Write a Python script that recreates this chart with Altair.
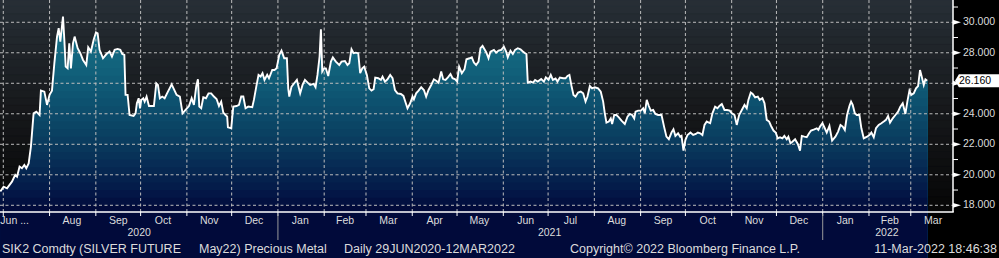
import altair as alt
import pandas as pd

# ---------------- data ----------------
START = "2020-06-29"   # first trading day shown; offsets below are days after it

days = [
    0.0, 2.2, 4.5, 7.8, 10.0, 11.2, 12.9, 14.5, 16.1, 17.4,
    19.0, 20.5, 22.3, 24.1, 26.3, 27.2, 29.5, 31.3, 33.0, 34.6,
    36.2, 38.0, 39.1, 40.2, 42.0, 42.9, 43.8, 45.1, 46.2, 47.3,
    48.7, 49.8, 51.8, 53.6, 55.4, 57.6, 58.9, 60.7, 62.5, 64.1,
    65.2, 66.5, 68.8, 71.0, 73.2, 74.8, 76.6, 78.6, 80.4, 81.7,
    83.1, 83.9, 85.3, 86.6, 89.3, 90.6, 91.5, 92.7, 93.6, 94.4,
    95.8, 96.7, 98.0, 99.6, 102.9, 104.5, 105.6, 106.9, 108.5, 110.1,
    112.3, 114.8, 116.3, 118.1, 120.3, 122.1, 124.1, 126.4, 128.2, 129.7,
    131.3, 132.4, 133.3, 134.6, 136.0, 137.8, 139.5, 141.3, 143.1, 144.9,
    146.5, 148.0, 149.4, 150.9, 152.0, 152.5, 154.7, 156.1, 158.3, 159.9,
    161.4, 162.8, 164.3, 166.1, 168.8, 169.9, 171.5, 173.0, 174.4, 175.7,
    177.0, 178.8, 180.0, 182.2, 183.7, 185.1, 186.9, 188.4, 190.2, 192.0,
    192.9, 193.6, 195.1, 196.9, 198.7, 200.9, 202.5, 204.1, 205.9, 207.6,
    209.9, 211.2, 212.5, 213.9, 214.8, 215.7, 217.0, 218.1, 219.7, 221.5,
    222.8, 224.8, 227.1, 228.6, 230.9, 232.6, 233.8, 235.3, 236.7, 238.2,
    239.8, 241.1, 242.5, 243.8, 245.6, 247.2, 248.7, 250.1, 251.2, 253.2,
    255.0, 256.1, 257.7, 259.4, 261.2, 262.8, 264.4, 266.1, 268.4, 270.1,
    271.7, 272.8, 274.6, 276.2, 277.1, 278.6, 280.2, 282.0, 283.8, 285.3,
    286.9, 288.7, 290.5, 292.3, 293.6, 295.4, 296.7, 298.3, 299.9, 301.6,
    303.0, 304.8, 306.1, 307.4, 309.2, 311.0, 312.3, 314.4, 315.9, 317.3,
    318.8, 320.4, 321.7, 323.1, 324.4, 325.7, 327.1, 328.4, 330.7, 332.2,
    333.8, 335.6, 337.4, 338.9, 340.0, 341.8, 343.4, 344.9, 346.7, 348.5,
    350.1, 351.6, 352.5, 353.4, 355.2, 357.0, 358.3, 360.1, 362.4, 364.2,
    365.5, 367.3, 368.8, 370.2, 372.0, 373.3, 374.9, 377.1, 378.7, 380.0,
    381.3, 382.7, 384.0, 385.4, 387.1, 388.9, 390.5, 392.1, 393.4, 395.0,
    396.5, 398.3, 400.5, 402.3, 403.9, 405.0, 406.1, 407.7, 409.0, 409.9,
    411.3, 412.8, 414.4, 416.2, 418.4, 420.2, 421.8, 423.3, 424.7, 425.6,
    427.3, 429.1, 430.7, 431.8, 433.1, 434.5, 435.8, 437.4, 438.9, 440.7,
    443.0, 444.7, 446.3, 447.9, 449.7, 451.0, 452.3, 454.1, 455.5, 456.4,
    457.7, 459.0, 460.4, 462.4, 464.2, 466.0, 467.3, 468.9, 470.4, 471.8,
    473.3, 475.6, 477.1, 478.9, 480.5, 481.8, 483.4, 485.2, 487.0, 488.7,
    490.1, 491.9, 493.4, 495.0, 496.8, 498.6, 500.1, 501.2, 502.8, 504.1,
    505.7, 507.5, 508.8, 510.6, 512.0, 513.5, 515.1, 516.4, 518.0, 519.5,
    520.9, 522.4, 524.0, 525.3, 526.9, 528.0, 529.4, 530.7, 532.5, 534.3,
    535.8, 537.0, 538.7, 540.3, 541.9, 543.2, 545.4, 547.0, 548.1, 549.2,
    550.8, 552.4, 553.7, 555.5, 557.3, 559.5, 561.3, 562.9, 564.4, 565.8,
    567.3, 568.9, 570.0, 571.1, 572.5, 573.8, 575.6, 576.9, 578.5, 580.7,
    582.3, 583.6, 585.2, 586.7, 588.5, 590.3, 591.9, 593.4, 594.8, 596.1,
    597.9, 599.7, 601.5, 603.0, 604.6, 606.4, 607.7, 609.1, 610.4, 612.0,
    613.5, 614.9, 616.2, 617.6, 618.7, 619.8, 621.0,
]

prices = [
    18.90, 19.22, 19.11, 19.55, 19.99, 19.88, 20.54, 20.43, 20.64, 20.43,
    20.75, 21.85, 24.03, 24.14, 23.92, 25.52, 25.45, 24.58, 25.24, 25.52,
    27.31, 29.06, 29.61, 28.73, 30.37, 28.84, 27.09, 26.98, 28.62, 26.98,
    28.62, 29.06, 28.30, 27.97, 27.53, 27.20, 28.36, 28.08, 28.84, 29.34,
    29.28, 28.19, 27.64, 27.90, 28.08, 27.75, 28.19, 28.25, 28.19, 27.92,
    27.86, 25.24, 25.24, 23.92, 23.86, 24.03, 24.69, 25.02, 24.36, 24.91,
    25.02, 24.80, 25.13, 24.51, 24.51, 26.00, 25.89, 25.02, 25.13, 25.02,
    25.45, 25.93, 25.61, 25.24, 25.13, 24.03, 24.25, 24.51, 25.02, 24.58,
    25.82, 26.26, 24.47, 24.36, 25.08, 25.02, 25.34, 25.34, 25.13, 24.97,
    24.51, 24.80, 24.08, 23.92, 23.81, 23.11, 23.05, 24.47, 24.51, 24.58,
    25.13, 25.13, 24.36, 24.47, 24.43, 24.91, 25.78, 26.55, 26.44, 26.66,
    26.22, 26.55, 26.33, 26.87, 26.87, 26.98, 27.86, 28.14, 27.64, 27.64,
    25.67, 25.13, 25.78, 26.00, 26.22, 25.34, 25.89, 26.22, 26.04, 25.89,
    25.96, 25.74, 26.55, 27.75, 29.54, 26.77, 26.98, 26.98, 26.48, 27.42,
    27.70, 27.42, 27.20, 27.42, 27.46, 27.20, 27.31, 28.23, 27.97, 28.01,
    27.97, 26.66, 26.98, 27.09, 26.55, 25.67, 25.52, 25.61, 26.37, 26.33,
    26.22, 26.44, 26.11, 26.26, 26.55, 26.33, 25.56, 25.34, 25.30, 25.17,
    24.69, 24.36, 24.69, 25.13, 24.95, 25.34, 25.52, 25.74, 25.56, 25.13,
    25.56, 25.89, 26.26, 26.15, 26.04, 26.77, 26.26, 26.22, 26.39, 26.61,
    26.33, 26.26, 26.11, 27.09, 26.66, 26.92, 27.57, 27.64, 27.70, 27.36,
    27.20, 27.42, 28.30, 28.45, 28.23, 28.01, 27.64, 28.08, 28.19, 28.01,
    28.14, 28.19, 28.40, 28.08, 27.70, 28.14, 27.92, 28.19, 28.30, 28.23,
    28.08, 27.97, 27.92, 26.04, 26.11, 26.04, 26.22, 26.11, 26.28, 26.11,
    26.39, 26.22, 26.55, 26.22, 26.31, 26.11, 26.37, 26.33, 26.33, 26.48,
    26.55, 25.82, 25.24, 25.13, 25.39, 25.45, 25.34, 24.80, 25.13, 25.82,
    25.67, 25.74, 25.67, 25.45, 24.80, 24.03, 23.42, 23.49, 23.70, 23.33,
    23.92, 23.92, 23.77, 23.55, 23.33, 23.81, 23.99, 23.92, 23.70, 24.14,
    24.21, 24.21, 24.36, 24.03, 24.91, 24.51, 24.21, 24.25, 23.99, 23.92,
    23.92, 23.16, 22.50, 22.33, 22.77, 22.98, 22.55, 22.72, 22.50, 22.55,
    21.58, 22.28, 22.61, 22.77, 22.61, 22.68, 22.77, 22.72, 22.61, 23.27,
    23.49, 23.38, 24.03, 24.47, 24.36, 24.51, 24.64, 24.25, 24.25, 24.21,
    24.03, 23.92, 23.27, 23.92, 24.25, 24.58, 24.36, 24.91, 25.39, 25.30,
    25.08, 25.13, 24.91, 25.02, 24.69, 23.60, 23.49, 23.20, 22.90, 22.77,
    22.39, 22.46, 22.39, 22.55, 22.33, 22.50, 22.07, 22.17, 22.33, 22.02,
    21.58, 22.55, 22.50, 22.46, 22.72, 22.90, 22.98, 23.05, 22.94, 23.16,
    23.38, 23.05, 22.77, 23.20, 22.24, 22.50, 22.83, 23.27, 23.16, 22.94,
    23.92, 24.51, 24.80, 24.58, 24.03, 23.92, 23.92, 23.05, 22.39, 22.50,
    22.61, 22.77, 22.46, 23.05, 23.27, 23.38, 23.49, 23.60, 23.86, 23.42,
    23.70, 23.92, 24.14, 24.47, 24.69, 23.99, 24.80, 25.52, 25.24, 25.34,
    25.67, 25.82, 26.87, 26.33, 25.89, 26.26, 26.16,
]

month_starts = [
    "2020-07-01", "2020-08-01", "2020-09-01", "2020-10-01", "2020-11-01",
    "2020-12-01", "2021-01-01", "2021-02-01", "2021-03-01", "2021-04-01",
    "2021-05-01", "2021-06-01", "2021-07-01", "2021-08-01", "2021-09-01",
    "2021-10-01", "2021-11-01", "2021-12-01", "2022-01-01", "2022-02-01",
    "2022-03-01",
]
month_label_dates = [
    "2020-08-16", "2020-09-16", "2020-10-16", "2020-11-16", "2020-12-16",
    "2021-01-16", "2021-02-15", "2021-03-16", "2021-04-16", "2021-05-16",
    "2021-06-16", "2021-07-16", "2021-08-16", "2021-09-16", "2021-10-16",
    "2021-11-16", "2021-12-16", "2022-01-16", "2022-02-15", "2022-03-16",
]
month_labels = [
    "Aug", "Sep", "Oct", "Nov", "Dec", "Jan", "Feb", "Mar", "Apr", "May",
    "Jun", "Jul", "Aug", "Sep", "Oct", "Nov", "Dec", "Jan", "Feb", "Mar",
]
first_label_date = ["2020-06-29"]
first_label = ["Jun ..."]
year_label_dates = ["2020-09-30", "2021-07-02", "2022-02-13"]
year_labels = ["2020", "2021", "2022"]
year_breaks = ["2021-01-01", "2022-01-01"]
y_major = [18, 20, 22, 24, 26, 28, 30]
# the 26 label is hidden behind the last-value box in the reference
y_label_values = [18, 20, 22, 24, 28, 30]
y_label_texts = ["18.000", "20.000", "22.000", "24.000", "28.000", "30.000"]
y_minor = [19, 21, 23, 25, 27, 29, 31]
last_value_label = ["26.160"]

footer_texts = [
    "SIK2 Comdty (SILVER FUTURE",
    "May22) Precious Metal",
    "Daily 29JUN2020-12MAR2022",
    "Copyright\u00a9 2022 Bloomberg Finance L.P.",
    "11-Mar-2022 18:46:38",
]

# ---------------- layout / style ----------------
W, H = 953, 212
Y_LO, Y_HI = 17.56, 31.46
FONT = "Liberation Sans"
TXT = "#dcdcdc"
GRID = "#bdbdbd"

FILL_STOPS = [(0.00, (0x1a, 0x7c, 0x94)), (0.25, (0x13, 0x68, 0x80)),
              (0.45, (0x0e, 0x55, 0x72)), (0.65, (0x0a, 0x3e, 0x60)),
              (0.80, (0x06, 0x28, 0x52)), (0.92, (0x03, 0x15, 0x45)),
              (1.00, (0x01, 0x08, 0x38))]
BG_STOPS = [(0.0, (0x27, 0x2f, 0x36)), (0.5, (0x17, 0x19, 0x1c)), (1.0, (0x06, 0x06, 0x06))]


def mix(stops, t):
    for (t0, c0), (t1, c1) in zip(stops[:-1], stops[1:]):
        if t <= t1:
            f = 0 if t1 == t0 else (t - t0) / (t1 - t0)
            return "#%02x%02x%02x" % tuple(int(round(a + (b - a) * f)) for a, b in zip(c0, c1))
    return "#%02x%02x%02x" % stops[-1][1]


def dash_path(length_px, dash=3.0, gap=2.5, vertical=False):
    """Symbol path (unit coords, -1..1 spans length_px) made of short dashes."""
    u = 2.0 / length_px
    parts, p = [], 0.0
    while p < length_px:
        a = -1 + p * u
        b = -1 + min(p + dash, length_px) * u
        if vertical:
            parts.append(f"M0 {a:.5f}L0 {b:.5f}")
        else:
            parts.append(f"M{a:.5f} 0L{b:.5f} 0")
        p += dash + gap
    return "".join(parts)


df = pd.DataFrame({
    "date": pd.Timestamp(START) + pd.to_timedelta(days, unit="D"),
    "price": prices,
})

xscale = alt.Scale(domain=[alt.DateTime(year=2020, month=6, date=28, hours=19),
                           alt.DateTime(year=2022, month=3, date=29, hours=7)])
yscale = alt.Scale(domain=[Y_LO, Y_HI], zero=False, nice=False)


def X(field):
    return alt.X(field, scale=xscale, axis=None, title=None)


def Y(field):
    return alt.Y(field, scale=yscale, axis=None, title=None)


layers = []
# plot background: horizontal bands darkening downwards
band_edges = [Y_LO + i * 0.5 for i in range(29)] + [Y_HI]
for lo, hi in zip(band_edges[:-1], band_edges[1:]):
    if lo >= Y_HI:
        continue
    hi = min(hi, Y_HI)
    t = (Y_HI - (lo + hi) / 2) / (Y_HI - Y_LO)
    c = mix(BG_STOPS, t)
    layers.append(
        alt.Chart(pd.DataFrame({"a": [lo], "b": [hi]})).mark_rect(
            color=c, opacity=1, stroke=c, strokeWidth=0.6
        ).encode(y=Y("a:Q"), y2="b:Q", x=alt.value(0), x2=alt.value(W))
    )

# area fill: colour bands drawn top-down, each from the plot bottom up to min(price, band top)
band_tops = [18.0 + 0.5 * i for i in range(28)]
for top in sorted(band_tops, reverse=True):
    t = (Y_HI - (top - 0.25)) / (Y_HI - Y_LO)
    layers.append(
        alt.Chart(df).transform_calculate(
            yb=f"min(datum.price, {top})"
        ).mark_area(color=mix(FILL_STOPS, max(0.0, min(1.0, t))), opacity=1).encode(
            x=X("date:T"), y=Y("yb:Q"), y2=alt.value(H)
        )
    )

# dashed grid (drawn as dash-pattern symbols)
hgrid = alt.Chart(pd.DataFrame({"v": y_major})).mark_point(
    shape=dash_path(W), filled=False, stroke=GRID, strokeWidth=1, opacity=1, size=W * W
).encode(y=Y("v:Q"), x=alt.value(W / 2))

vgrid = alt.Chart(pd.DataFrame({"d": pd.to_datetime(month_starts)})).mark_point(
    shape=dash_path(H, vertical=True), filled=False, stroke=GRID, strokeWidth=1, opacity=1, size=H * H
).encode(x=X("d:T"), y=alt.value(H / 2))

line = alt.Chart(df).mark_line(color="white", strokeWidth=1.9).encode(
    x=X("date:T"), y=Y("price:Q")
)

# axis lines and ticks
x_domain = alt.Chart(pd.DataFrame({"k": [0]})).mark_rule(color="white", strokeWidth=1.5).encode(
    x=alt.value(0), x2=alt.value(W + 0.75), y=alt.value(H)
)
y_domain = alt.Chart(pd.DataFrame({"k": [0]})).mark_rule(color="white", strokeWidth=1.5).encode(
    x=alt.value(W), y=alt.value(0), y2=alt.value(H)
)
x_ticks = alt.Chart(pd.DataFrame({"d": pd.to_datetime(month_starts)})).mark_rule(
    color="white", strokeWidth=1
).encode(x=X("d:T"), y=alt.value(H), y2=alt.value(H + 4))

minor_ticks = alt.Chart(pd.DataFrame({"v": y_minor})).mark_rule(
    color="white", strokeWidth=1
).encode(y=Y("v:Q"), x=alt.value(W), x2=alt.value(W + 5))

TRI = "M -1 -0.6 L 1 0 L -1 0.6 Z"
major_marks = alt.Chart(pd.DataFrame({"v": y_major})).mark_point(
    shape=TRI, filled=True, color="white", opacity=1, size=64
).encode(y=Y("v:Q"), x=alt.value(W + 4))

ytext = alt.Chart(pd.DataFrame({"v": y_label_values, "t": y_label_texts})).mark_text(
    align="left", baseline="middle", color=TXT, font=FONT, fontSize=10.5
).encode(y=Y("v:Q"), x=alt.value(W + 10), text="t:N")

BOX = "M -1 0 L -0.83 -0.283 L 1 -0.283 L 1 0.283 L -0.83 0.283 Z"
last_df = pd.DataFrame({"price": [prices[-1]], "label": last_value_label})
last_box = alt.Chart(last_df).mark_point(
    shape=BOX, filled=True, color="white", opacity=1, size=46 * 46
).encode(y=Y("price:Q"), x=alt.value(W + 25))
last_text = alt.Chart(last_df).mark_text(
    align="left", baseline="middle", color="black", font=FONT, fontSize=10.5
).encode(y=Y("price:Q"), x=alt.value(W + 6), text="label:N")

mlabels = alt.Chart(pd.DataFrame({"d": pd.to_datetime(month_label_dates), "t": month_labels})).mark_text(
    align="center", baseline="middle", color=TXT, font=FONT, fontSize=10.5
).encode(x=X("d:T"), y=alt.value(H + 9), text="t:N")

first_lbl = alt.Chart(pd.DataFrame({"d": pd.to_datetime(first_label_date), "t": first_label})).mark_text(
    align="left", baseline="middle", color=TXT, font=FONT, fontSize=10.5
).encode(x=X("d:T"), y=alt.value(H + 9), text="t:N")

ylabels = alt.Chart(pd.DataFrame({"d": pd.to_datetime(year_label_dates), "t": year_labels})).mark_text(
    align="center", baseline="middle", color=TXT, font=FONT, fontSize=10.5
).encode(x=X("d:T"), y=alt.value(H + 21), text="t:N")

ybreaks = alt.Chart(pd.DataFrame({"d": pd.to_datetime(year_breaks)})).mark_rule(
    color="#9a9a9a", strokeWidth=1
).encode(x=X("d:T"), y=alt.value(H + 2), y2=alt.value(H + 28))

footer_pos = [(2, "left"), (199, "left"), (344, "left"), (570, "left"), (997, "right")]
footer_layers = []
for txt, (px, al) in zip(footer_texts, footer_pos):
    footer_layers.append(
        alt.Chart(pd.DataFrame({"t": [txt]})).mark_text(
            align=al, baseline="middle", color=TXT, font=FONT, fontSize=12.5
        ).encode(x=alt.value(px), y=alt.value(249), text="t:N")
    )

chart = alt.layer(
    *layers, hgrid, vgrid, line, x_domain, y_domain, x_ticks,
    minor_ticks, major_marks, ytext, last_box, last_text,
    mlabels, first_lbl, ylabels, ybreaks, *footer_layers
).properties(
    width=W, height=H,
    autosize=alt.AutoSizeParams(type="none"),
    padding={"left": 0, "top": 0, "right": 46, "bottom": 46},
    background="#000000",
).configure_view(stroke=None)

chart.save("out.html", embed_options={"renderer": "svg", "actions": False})
